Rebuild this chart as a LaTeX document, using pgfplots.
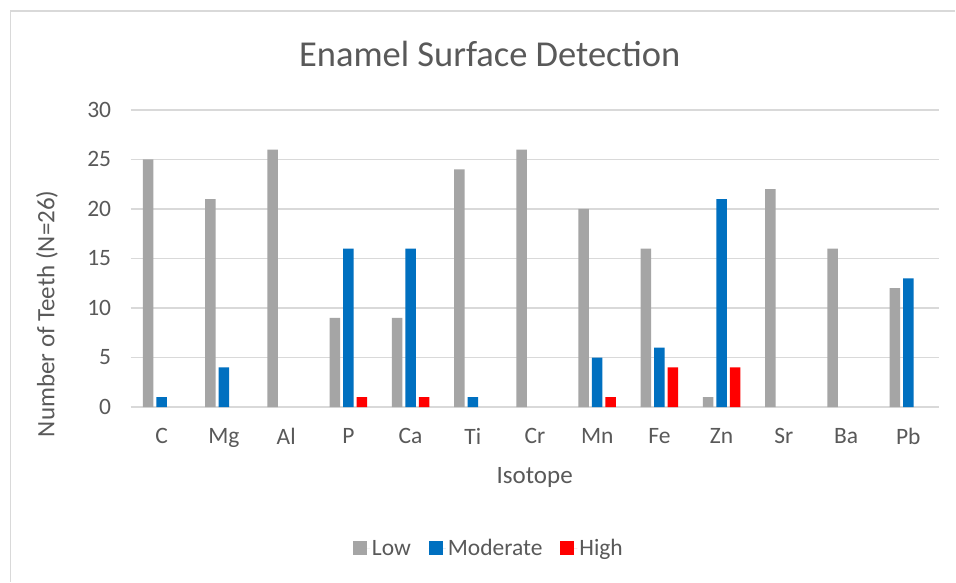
\documentclass[border=0pt]{standalone}
\usepackage{fontspec}
\setmainfont{Carlito}
\usepackage{pgfplots}
\pgfplotsset{compat=1.18}
\definecolor{txt}{HTML}{595959}
\definecolor{gridc}{HTML}{D9D9D9}
\definecolor{lowc}{HTML}{A5A5A5}
\definecolor{modc}{HTML}{0070C0}
\definecolor{highc}{HTML}{FF0000}
\begin{document}
\begin{tikzpicture}
\fill[white] (0bp,0bp) rectangle (956bp,582bp);
\draw[gridc, line width=1.2bp] (10.5bp,0bp) -- (10.5bp,571bp) -- (956bp,571bp);
\node[txt, font=\fontsize{36.5bp}{40bp}\selectfont, anchor=base] at (490bp,515bp) {Enamel Surface Detection};
\node[txt, font=\fontsize{25bp}{28bp}\selectfont, rotate=90] at (47bp,268bp) {Number of Teeth (N=26)};
\node[txt, font=\fontsize{25bp}{28bp}\selectfont] at (535bp,104bp) {Isotope};
\begin{axis}[
  at={(130.7bp,174.7bp)}, anchor=south west,
  width=809.3bp, height=297.3bp, scale only axis,
  xmin=-0.5, xmax=12.5, ymin=0, ymax=30,
  ytick={0,5,...,30},
  xtick={0,...,12},
  xticklabels={C,Mg,Al,P,Ca,Ti,Cr,Mn,Fe,Zn,Sr,Ba,Pb},
  ymajorgrids, grid style={gridc, line width=1.5bp},
  axis line style={draw=none},
  major tick length=0pt,
  tick label style={txt, font=\fontsize{23.5bp}{26bp}\selectfont},
  /pgf/number format/assume math mode=true,
  yticklabel style={xshift=-16bp},
  xticklabel style={yshift=-18bp},
  ybar=3bp, bar width=10.5bp,
  legend columns=3,
  legend style={draw=none, fill=none, at={(0.443,-0.476)}, anchor=center,
    font=\fontsize{23.5bp}{26bp}\selectfont, text=txt,
    /tikz/every even column/.append style={column sep=16bp}},
  legend image code/.code={\fill[#1] (0bp,-7bp) rectangle (14bp,7bp); \path (0bp,0bp) -- (17bp,0bp);},
]
\addplot[fill=lowc, draw=none] coordinates {(0,25) (1,21) (2,26) (3,9) (4,9) (5,24) (6,26) (7,20) (8,16) (9,1) (10,22) (11,16) (12,12)};
\addplot[fill=modc, draw=none] coordinates {(0,1) (1,4) (3,16) (4,16) (5,1) (7,5) (8,6) (9,21) (12,13)};
\addplot[fill=highc, draw=none] coordinates {(3,1) (4,1) (7,1) (8,4) (9,4)};
\legend{Low,Moderate,High}
\end{axis}
\end{tikzpicture}
\end{document}
